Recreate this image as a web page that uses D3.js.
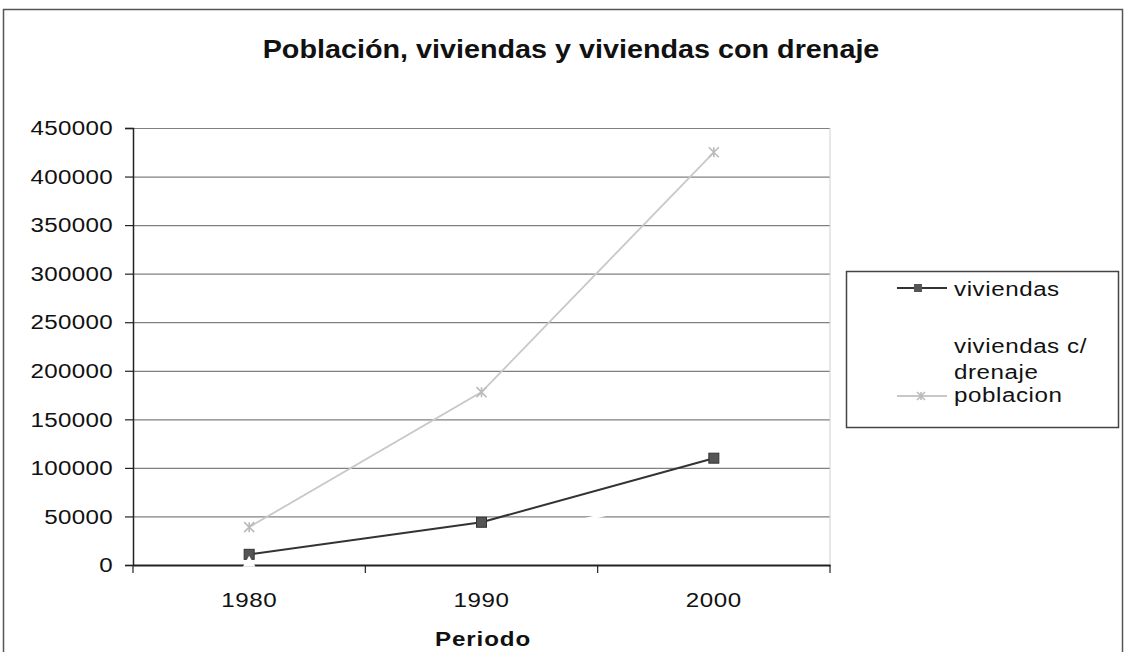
<!DOCTYPE html>
<html>
<head>
<meta charset="utf-8">
<script src="https://cdn.jsdelivr.net/npm/d3@7"></script>
<style>
  body { margin: 0; background: #fff; }
  text { font-family: "Liberation Sans", Arial, sans-serif; fill: #111; }
</style>
</head>
<body>
<div id="chart"></div>
<script>
var width = 1126;
var height = 652;

// data
var periods = ["1980", "1990", "2000"];
var viviendas = [11000, 44000, 110000];
var drenaje = [2000, 22000, 78000];   // drawn in white in the original
var poblacion = [39000, 178000, 425000];
var yTicks = [0, 50000, 100000, 150000, 200000, 250000, 300000, 350000, 400000, 450000];
var legendLabels = ["viviendas", "viviendas c/ drenaje", "poblacion"];

var margin = { top: 128, right: 296, bottom: 87, left: 133 };
var STRETCH = 1.15; // the scanned original is a bit wide

var svg = d3.select("#chart")
  .append("svg")
  .attr("width", width)
  .attr("height", height);

// put a text at (x,y) and widen it around its anchor
function stretchText(sel) {
  sel.each(function () {
    var t = d3.select(this);
    var tx = +t.attr("x") || 0, ty = +t.attr("y") || 0;
    t.attr("x", 0).attr("y", 0)
      .attr("transform", "translate(" + tx + "," + ty + ") scale(" + STRETCH + ",1)");
  });
}

// outer chart border
svg.append("rect")
  .attr("x", 3.5).attr("y", 9.5)
  .attr("width", 1119).attr("height", 660)
  .attr("fill", "none")
  .attr("stroke", "#555")
  .attr("stroke-width", 1.5);

// title
svg.append("text")
  .attr("x", 571).attr("y", 58)
  .attr("text-anchor", "middle")
  .style("font-size", "25px")
  .style("font-weight", "bold")
  .text("Población, viviendas y viviendas con drenaje")
  .call(stretchText);

var x = d3.scaleBand()
  .domain(periods)
  .range([margin.left, width - margin.right]);

var y = d3.scaleLinear()
  .domain([0, 450000])
  .range([height - margin.bottom, margin.top]);

var cx = function (d, i) { return x(periods[i]) + x.bandwidth() / 2; };

// gridlines
svg.append("g")
  .attr("transform", "translate(" + margin.left + ",0)")
  .call(d3.axisLeft(y).tickValues(yTicks).tickSize(-(width - margin.right - margin.left)).tickFormat(""))
  .call(function (g) {
    g.select(".domain").remove();
    g.selectAll("line").attr("stroke", "#808080").attr("stroke-width", 1.2);
  });

// right edge of plot area
svg.append("line")
  .attr("x1", width - margin.right).attr("x2", width - margin.right)
  .attr("y1", margin.top).attr("y2", height - margin.bottom)
  .attr("stroke", "#cfcfcf");

// y axis
svg.append("g")
  .attr("transform", "translate(" + margin.left + ",0)")
  .call(d3.axisLeft(y).tickValues(yTicks).tickSize(8).tickPadding(12).tickFormat(d3.format("d")))
  .call(function (g) {
    g.select(".domain").attr("stroke", "#222").attr("stroke-width", 1.5);
    g.selectAll("line").attr("stroke", "#222").attr("stroke-width", 1.2);
    g.selectAll("text").style("font-size", "21px").style("letter-spacing", "0.3px").attr("fill", "#111")
      .call(stretchText);
  });

// x axis: labels at band centres, ticks at band edges
var xAxis = svg.append("g")
  .attr("transform", "translate(0," + (height - margin.bottom) + ")")
  .call(d3.axisBottom(x).tickSize(0).tickPadding(27))
  .call(function (g) {
    g.select(".domain").attr("stroke", "#222").attr("stroke-width", 1.8);
    g.selectAll("text").style("font-size", "21px").style("letter-spacing", "0.5px").attr("fill", "#111")
      .call(stretchText);
  });

var edges = periods.map(function (p) { return x(p); }).concat([x.range()[1]]);
xAxis.selectAll(".edge")
  .data(edges)
  .enter()
  .append("line")
  .attr("x1", function (d) { return d; })
  .attr("x2", function (d) { return d; })
  .attr("y1", 0).attr("y2", 8)
  .attr("stroke", "#222")
  .attr("stroke-width", 1.2);

svg.append("text")
  .attr("x", 483).attr("y", 646)
  .attr("text-anchor", "middle")
  .style("font-size", "21px")
  .style("font-weight", "bold")
  .style("letter-spacing", "0.8px")
  .text("Periodo")
  .call(stretchText);

var line = d3.line()
  .x(cx)
  .y(function (d) { return y(d); });

// viviendas
svg.append("path")
  .datum(viviendas)
  .attr("d", line)
  .attr("fill", "none")
  .attr("stroke", "#333")
  .attr("stroke-width", 2);
svg.selectAll(".viv")
  .data(viviendas)
  .enter()
  .append("rect")
  .attr("class", "viv")
  .attr("x", function (d, i) { return cx(d, i) - 5; })
  .attr("y", function (d) { return y(d) - 5; })
  .attr("width", 10).attr("height", 10)
  .attr("fill", "#555")
  .attr("stroke", "#333");

// viviendas c/ drenaje (white)
svg.append("path")
  .datum(drenaje)
  .attr("d", line)
  .attr("fill", "none")
  .attr("stroke", "#fff")
  .attr("stroke-width", 3);
svg.selectAll(".dren")
  .data(drenaje)
  .enter()
  .append("path")
  .attr("class", "dren")
  .attr("d", d3.symbol().type(d3.symbolTriangle).size(70))
  .attr("transform", function (d, i) { return "translate(" + cx(d, i) + "," + y(d) + ")"; })
  .attr("fill", "#fff");

// poblacion
svg.append("path")
  .datum(poblacion)
  .attr("d", line)
  .attr("fill", "none")
  .attr("stroke", "#c8c8c8")
  .attr("stroke-width", 1.8);
function star(g, px, py, s, color) {
  g.append("path")
    .attr("d", "M" + (px - s) + "," + (py - s) + "L" + (px + s) + "," + (py + s) +
      "M" + (px - s) + "," + (py + s) + "L" + (px + s) + "," + (py - s) +
      "M" + px + "," + (py - s) + "L" + px + "," + (py + s))
    .attr("stroke", color)
    .attr("stroke-width", 1.6)
    .attr("fill", "none");
}
var starG = svg.append("g");
poblacion.forEach(function (d, i) { star(starG, cx(d, i), y(d), 5, "#bbbbbb"); });

// legend
var legend = svg.append("g");
legend.append("rect")
  .attr("x", 846.5).attr("y", 271.5)
  .attr("width", 272).attr("height", 156)
  .attr("fill", "#fff")
  .attr("stroke", "#444")
  .attr("stroke-width", 1.5);

var legendY = [288, 346, 396];
var lineStroke = ["#333", "#fff", "#c8c8c8"];
legendLabels.forEach(function (lab, i) {
  legend.append("line")
    .attr("x1", 897).attr("x2", 947)
    .attr("y1", legendY[i]).attr("y2", legendY[i])
    .attr("stroke", lineStroke[i])
    .attr("stroke-width", i === 0 ? 2 : 1.8);
});
legend.append("rect")
  .attr("x", 914).attr("y", legendY[0] - 4)
  .attr("width", 8).attr("height", 8)
  .attr("fill", "#555");
star(legend, 921, legendY[2], 4, "#bbbbbb");

var legendText = [["viviendas", 296], ["viviendas c/", 353], ["drenaje", 379], ["poblacion", 402]];
legendText.forEach(function (t) {
  legend.append("text")
    .attr("x", 954).attr("y", t[1])
    .style("font-size", "21px")
    .style("letter-spacing", "0.5px")
    .text(t[0])
    .call(stretchText);
});
</script>
</body>
</html>
